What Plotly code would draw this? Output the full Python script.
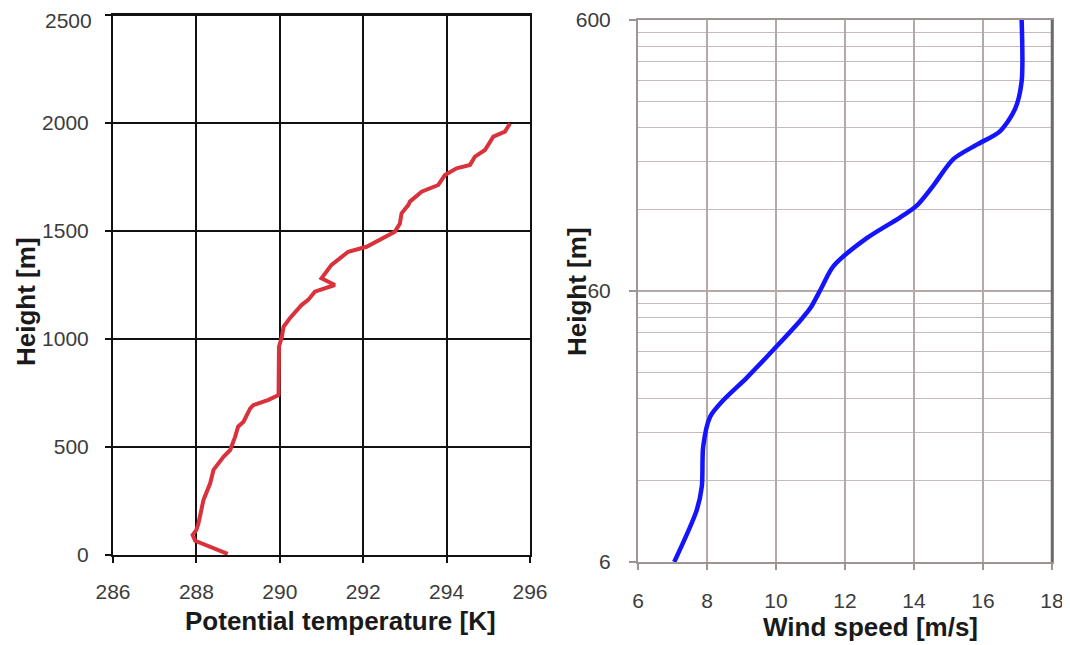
import plotly.graph_objects as go

# Left panel: potential temperature profile
theta_K = [288.75, 287.97, 287.91, 288.0, 288.05, 288.17, 288.33, 288.41, 288.65, 288.81,
           288.93, 289.0, 289.13, 289.29, 289.37, 289.73, 289.97, 289.98, 290.05, 290.09,
           290.24, 290.52, 290.68, 290.84, 291.32, 291.0, 291.24, 291.64, 292.08, 292.32,
           292.76, 292.88, 292.92, 293.08, 293.12, 293.40, 293.80, 293.96, 294.24, 294.56,
           294.68, 294.92, 295.12, 295.40, 295.52]
theta_h = [5, 66, 93, 116, 147, 255, 332, 394, 455, 486,
           548, 594, 617, 679, 694, 718, 741, 964, 1010, 1057,
           1096, 1157, 1181, 1219, 1250, 1281, 1343, 1404, 1427, 1451,
           1497, 1535, 1582, 1620, 1636, 1682, 1713, 1759, 1790, 1806,
           1844, 1875, 1937, 1960, 1998]

# Right panel: wind speed profile (log height)
wind_ms = [7.05, 7.70, 7.85, 7.89, 8.09, 8.47, 9.15, 10.02, 10.70, 11.0, 11.32,
           11.66, 12.63, 13.59, 14.08, 14.56, 15.14, 15.82, 16.49, 16.93, 17.12, 17.12]
wind_h = [6, 9.3, 11.4, 16.0, 20.6, 23.7, 28.7, 37.5, 46.6, 52, 61.7,
          74, 94, 112, 124, 147, 184, 208, 233, 282, 356, 600]

temp_ticks = [286, 288, 290, 292, 294, 296]
height_ticks = [0, 500, 1000, 1500, 2000, 2500]
height_labels = ["0", "500", "1000", "1500", "2000", ""]  # top label drawn separately
top_height_label = "2500"
wind_ticks = [6, 8, 10, 12, 14, 16, 18]
logh_ticks = [6, 60, 600]
logh_minor = [12, 18, 24, 30, 36, 42, 48, 54, 120, 180, 240, 300, 360, 420, 480, 540]

# page body has an 8px margin, so the figure is 8px smaller and positions are shifted
OFF = 8
W, H = 1070 - OFF, 645 - OFF
def px(x): return (x - OFF) / W
def py(y): return 1 - (y - OFF) / H

fig = go.Figure()
fig.add_trace(go.Scatter(x=theta_K, y=theta_h, mode="lines",
                         line=dict(color="#d9323c", width=4), xaxis="x", yaxis="y",
                         showlegend=False))
fig.add_trace(go.Scatter(x=wind_ms, y=wind_h, mode="lines",
                         line=dict(color="#1414ff", width=4.5, shape="spline", smoothing=0.8),
                         xaxis="x2", yaxis="y2", showlegend=False))

tickfont = dict(family="Liberation Sans, Arial", size=21, color="#3c3c3c")
fig.update_layout(
    width=W, height=H, margin=dict(l=0, r=0, t=0, b=0, pad=0),
    plot_bgcolor="white", paper_bgcolor="white",
    xaxis=dict(domain=[px(113), px(530)], range=[286, 296], tickvals=temp_ticks,
               showgrid=True, gridcolor="#111", gridwidth=2, zeroline=False,
               showline=True, linecolor="#111", linewidth=2, mirror=True,
               ticks="outside", ticklen=6, tickcolor="#111", tickwidth=2,
               ticklabelstandoff=11, automargin=False, ticklabeloverflow="allow",
               tickfont=tickfont, anchor="y", fixedrange=True),
    yaxis=dict(domain=[py(555), py(15)], range=[0, 2500], tickvals=height_ticks,
               ticktext=height_labels,
               showgrid=True, gridcolor="#111", gridwidth=2, zeroline=False,
               showline=True, linecolor="#111", linewidth=2, mirror=True,
               ticks="outside", ticklen=6, tickcolor="#111", tickwidth=2,
               ticklabelstandoff=12, automargin=False, ticklabeloverflow="allow",
               tickfont=tickfont, anchor="x"),
    xaxis2=dict(domain=[px(638), px(1052)], range=[6, 18], tickvals=wind_ticks,
                showgrid=True, gridcolor="#b3a9a9", gridwidth=1.5, zeroline=False,
                showline=True, linecolor="#9e9494", linewidth=2, mirror=True,
                ticks="outside", ticklen=6, tickcolor="#9e9494", tickwidth=1.5,
                ticklabelstandoff=13, automargin=False, ticklabeloverflow="allow",
                tickfont=tickfont, anchor="y2"),
    yaxis2=dict(domain=[py(562), py(20)], type="log", range=[0.77815, 2.77815],
                tickvals=logh_ticks, ticktext=["6", "60", "600"],
                showgrid=True, gridcolor="#b3a9a9", gridwidth=1.5, zeroline=False,
                showline=True, linecolor="#9e9494", linewidth=2, mirror=True,
                ticks="outside", ticklen=7, tickcolor="#9e9494", tickwidth=1.5,
                ticklabelstandoff=14, automargin=False, ticklabeloverflow="allow",
                tickfont=tickfont, anchor="x2",
                minor=dict(tickmode="array", tickvals=logh_minor, showgrid=True,
                           gridcolor="#c4baba", gridwidth=1.2, ticks="")),
)

# top tick label of the temperature panel, kept inside the page
fig.add_annotation(text=top_height_label, x=px(93), y=1, xref="paper", yref="paper",
                   xanchor="right", yanchor="top", showarrow=False, font=tickfont,
                   borderpad=0)

titlefont = dict(family="Liberation Sans, Arial", size=26, color="#1a1a1a")
def ann(text, x, y, angle=0):
    fig.add_annotation(text=text, x=px(x), y=py(y), xref="paper", yref="paper",
                       xanchor="center", yanchor="middle", textangle=angle,
                       showarrow=False, font=titlefont)
ann("<b>Potential temperature [K]</b>", 340, 621)
ann("<b>Wind speed [m/s]</b>", 870, 627)
ann("<b>Height [m]</b>", 26, 302, -90)
ann("<b>Height [m]</b>", 577, 292, -90)

# frame edges: top of temperature panel, darker right edge of wind panel
fig.add_shape(type="line", xref="x domain", yref="y domain", x0=0, x1=1, y0=1, y1=1,
              line=dict(color="#111", width=2))
fig.add_shape(type="line", xref="x2 domain", yref="y2 domain", x0=1, x1=1, y0=0, y1=1,
              line=dict(color="#6e6868", width=2.5))

fig.write_html("out.html")
